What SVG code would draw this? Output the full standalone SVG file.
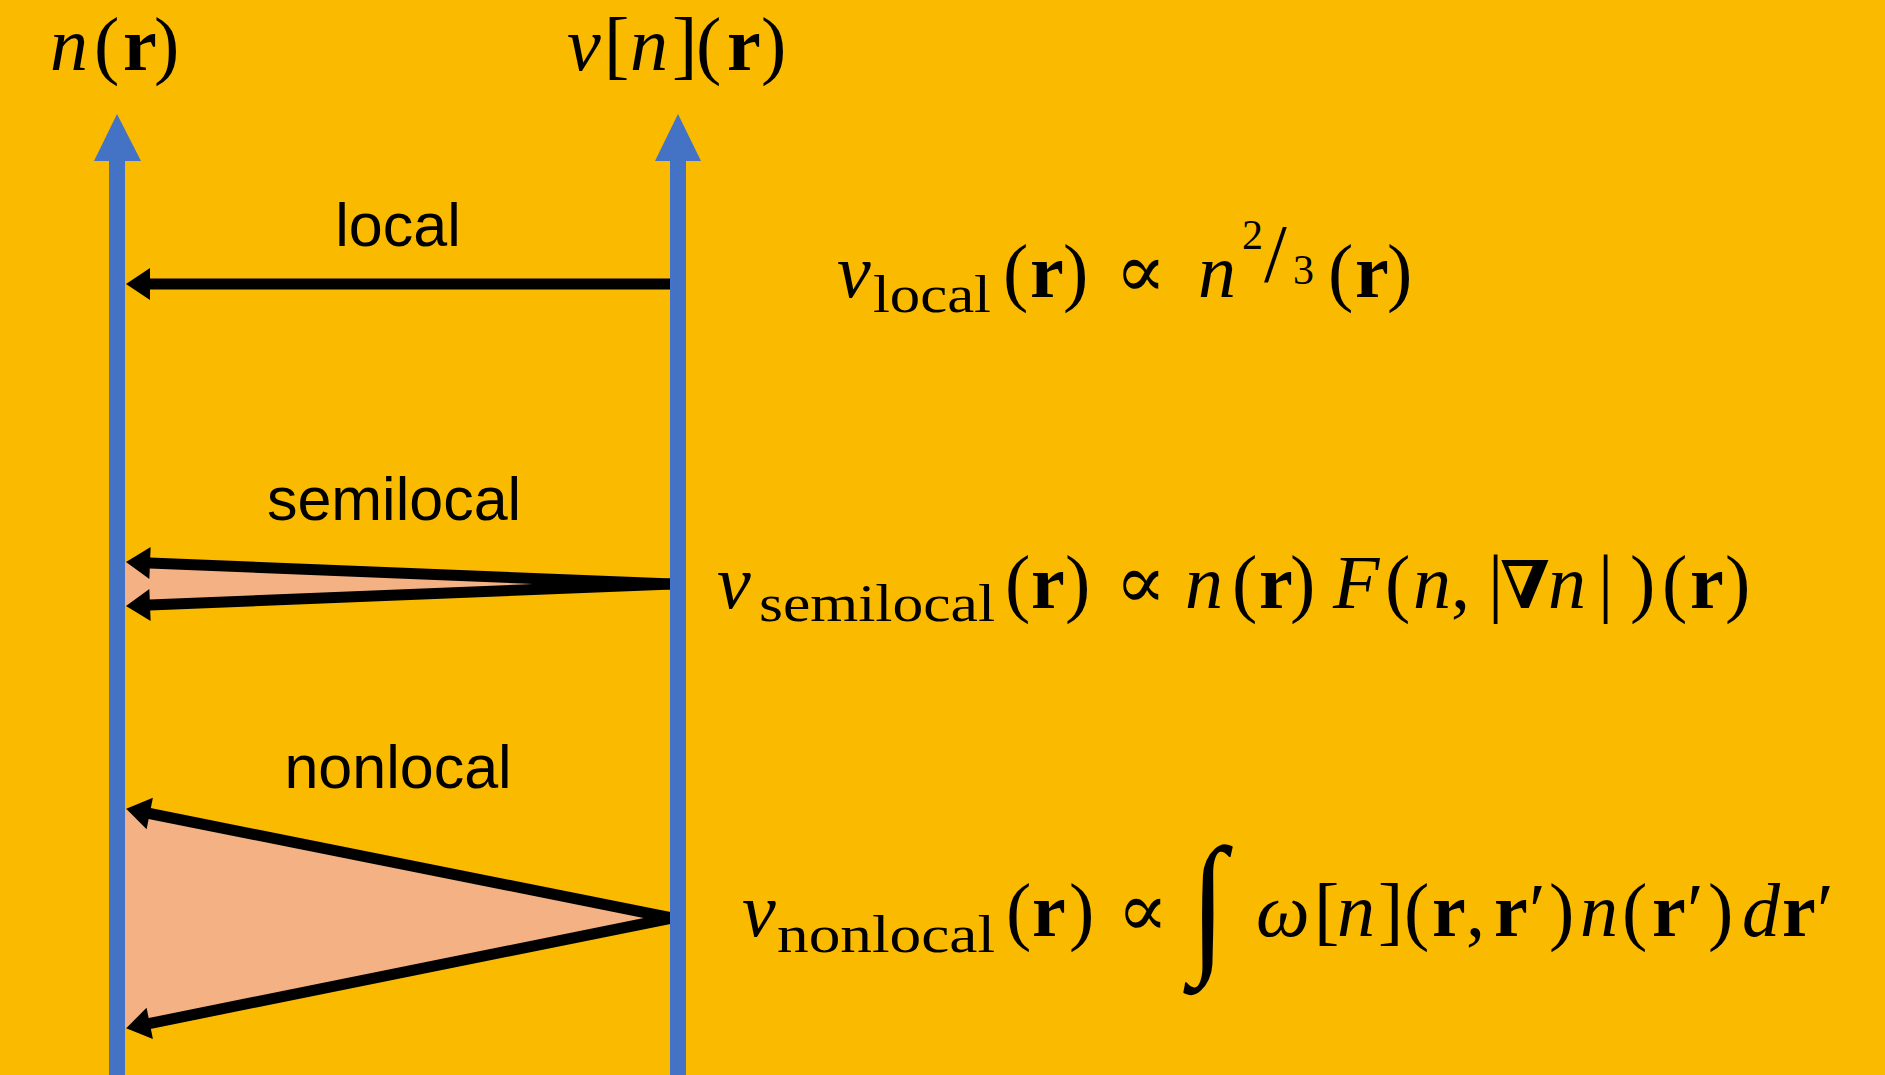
<svg xmlns="http://www.w3.org/2000/svg" width="1885" height="1075" viewBox="0 0 1885 1075">
<style>
.m{font-family:"Liberation Serif","DejaVu Serif",serif;font-size:76px;fill:#000}
.i{font-style:italic}
.b{font-weight:bold}
.sub{font-family:"Liberation Serif","DejaVu Serif",serif;font-size:52px;fill:#000}
.sm{font-family:"Liberation Serif","DejaVu Serif",serif;font-size:42px;fill:#000}
.lbl{font-family:"Liberation Sans",Arial,sans-serif;font-size:61px;fill:#000;text-anchor:middle}
.shaft{fill:#4472C4}
.conn{stroke:#000;stroke-width:11;fill:none;marker-end:url(#ah)}
.area{fill:#F4B183}
</style>
<defs>
<marker id="ah" markerUnits="userSpaceOnUse" markerWidth="32" markerHeight="36" viewBox="0 -18 28 36" refX="13" refY="0" orient="auto">
<path d="M0,-16 L24,0 L0,16 z" fill="#000"/>
</marker>
</defs>
<rect width="1885" height="1075" fill="#FABA00"/>

<g id="areas">
<polygon class="area" points="117,562 670,584 117,606"/>
<polygon class="area" points="117,808 670,918 117,1029"/>
</g>

<g id="connectors">
<line class="conn" x1="672" y1="284" x2="137" y2="284"/>
<line class="conn" x1="672" y1="584" x2="137" y2="562.5"/>
<line class="conn" x1="672" y1="584" x2="137" y2="605.5"/>
<line class="conn" x1="672" y1="918" x2="137" y2="811"/>
<line class="conn" x1="672" y1="918" x2="137" y2="1026"/>
</g>

<g id="density-axis">
<rect class="shaft" x="109" y="158" width="16" height="917"/>
<polygon class="shaft" points="117,114 94,161 141,161"/>
<text class="m" y="70"><tspan class="i" x="50">n</tspan><tspan x="94">(</tspan><tspan class="b" x="123">r</tspan><tspan x="154">)</tspan></text>
</g>

<g id="potential-axis">
<rect class="shaft" x="670" y="158" width="16" height="917"/>
<polygon class="shaft" points="678,114 655,161 701,161"/>
<text class="m" y="70"><tspan class="i" x="567">v</tspan><tspan x="604">[</tspan><tspan class="i" x="630">n</tspan><tspan x="672">]</tspan><tspan x="696">(</tspan><tspan class="b" x="727">r</tspan><tspan x="761">)</tspan></text>
</g>

<g id="local">
<text class="lbl" x="398" y="246">local</text>
<text class="m" y="297"><tspan class="i" x="837">v</tspan><tspan x="1003">(</tspan><tspan class="b" x="1030">r</tspan><tspan x="1063">)</tspan><tspan x="1115">∝</tspan><tspan class="i" x="1198">n</tspan><tspan x="1328">(</tspan><tspan class="b" x="1355">r</tspan><tspan x="1387">)</tspan></text>
<text class="sub" x="873" y="312" textLength="118" lengthAdjust="spacingAndGlyphs">local</text>
<text class="sm" x="1242" y="249">2</text>
<text class="m" x="1264" y="281" style="font-size:82px">/</text>
<text class="sm" x="1293" y="284">3</text>
</g>

<g id="semilocal">
<text class="lbl" x="394" y="520">semilocal</text>
<text class="m" y="608"><tspan class="i" x="717">v</tspan><tspan x="1005">(</tspan><tspan class="b" x="1031">r</tspan><tspan x="1065">)</tspan><tspan x="1115">∝</tspan><tspan class="i" x="1185">n</tspan><tspan x="1232">(</tspan><tspan class="b" x="1259">r</tspan><tspan x="1290">)</tspan><tspan class="i" x="1333">F</tspan><tspan x="1385">(</tspan><tspan class="i" x="1413">n</tspan><tspan x="1451">,</tspan><tspan x="1488">|</tspan><tspan class="b" x="1500" style="font-size:66px">∇</tspan><tspan class="i" x="1548">n</tspan><tspan x="1598">|</tspan><tspan x="1630">)</tspan><tspan x="1662">(</tspan><tspan class="b" x="1690">r</tspan><tspan x="1725">)</tspan></text>
<text class="sub" x="759" y="621" textLength="236" lengthAdjust="spacingAndGlyphs">semilocal</text>
</g>

<g id="nonlocal">
<text class="lbl" x="398" y="788">nonlocal</text>
<text class="m" y="936"><tspan class="i" x="742">v</tspan><tspan x="1006">(</tspan><tspan class="b" x="1032">r</tspan><tspan x="1069">)</tspan><tspan x="1117">∝</tspan><tspan class="i" x="1256">ω</tspan><tspan x="1314">[</tspan><tspan class="i" x="1337">n</tspan><tspan x="1378">]</tspan><tspan x="1404">(</tspan><tspan class="b" x="1432">r</tspan><tspan x="1466">,</tspan><tspan class="b" x="1494">r</tspan><tspan x="1529">′</tspan><tspan x="1549">)</tspan><tspan class="i" x="1580">n</tspan><tspan x="1622">(</tspan><tspan class="b" x="1652">r</tspan><tspan x="1687">′</tspan><tspan x="1708">)</tspan><tspan class="i" x="1742">d</tspan><tspan class="b" x="1782">r</tspan><tspan x="1817">′</tspan></text>
<text class="sub" x="777" y="952" textLength="218" lengthAdjust="spacingAndGlyphs">nonlocal</text>
<text class="m i" transform="translate(1190,954) scale(0.85,1)" style="font-size:154px">∫</text>
</g>
</svg>
